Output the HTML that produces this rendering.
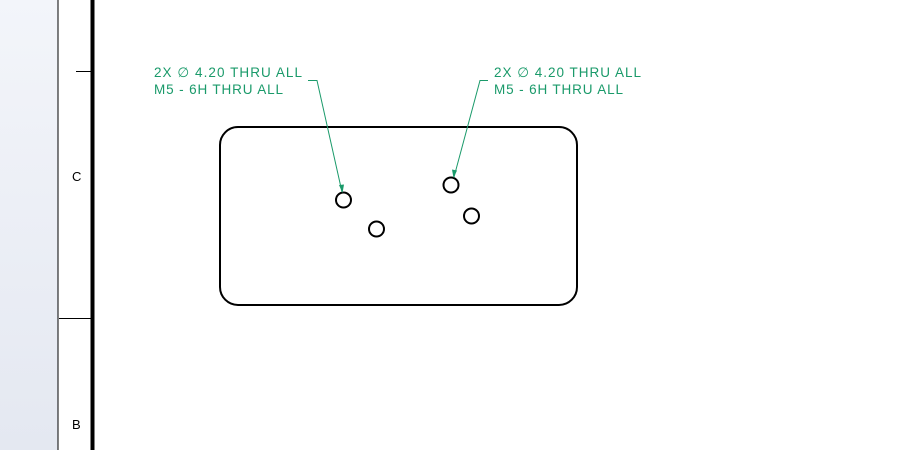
<!DOCTYPE html>
<html><head><style>
body{margin:0;width:908px;height:450px;overflow:hidden;background:#fff}
</style></head><body>
<svg width="908" height="450" xmlns="http://www.w3.org/2000/svg">
<defs><linearGradient id="g" x1="0" y1="0" x2="0" y2="1"><stop offset="0" stop-color="#f3f5fa"/><stop offset="1" stop-color="#e4e8f1"/></linearGradient></defs>
<rect x="0" y="0" width="58" height="450" fill="url(#g)"/>
<line x1="58" y1="0" x2="58" y2="450" stroke="#000" stroke-width="1"/>
<line x1="92.5" y1="0" x2="92.5" y2="450" stroke="#000" stroke-width="4"/>
<line x1="76" y1="71.5" x2="91" y2="71.5" stroke="#000" stroke-width="1"/>
<line x1="59" y1="318.5" x2="91" y2="318.5" stroke="#000" stroke-width="1"/>
<text x="72" y="181" font-family="Liberation Sans, sans-serif" font-size="13">C</text>
<text x="72" y="429" font-family="Liberation Sans, sans-serif" font-size="13">B</text>
<rect x="220" y="127" width="357" height="178" rx="18" fill="none" stroke="#000" stroke-width="2"/>
<g fill="none" stroke="#000" stroke-width="2">
<circle cx="343.5" cy="200" r="7.5"/><circle cx="376.5" cy="229" r="7.5"/>
<circle cx="451" cy="185" r="7.5"/><circle cx="471.5" cy="216" r="7.5"/>
</g>
<g font-family="Liberation Sans, sans-serif" font-size="13.5" fill="#1a9a6a" xml:space="preserve">
<text x="154" y="77" textLength="148" lengthAdjust="spacing">2X  ∅ 4.20 THRU ALL</text><text x="154" y="94" textLength="129" lengthAdjust="spacing">M5 - 6H THRU ALL</text>
<text x="494" y="77" textLength="147" lengthAdjust="spacing">2X  ∅ 4.20 THRU ALL</text><text x="494" y="94" textLength="129" lengthAdjust="spacing">M5 - 6H THRU ALL</text>
</g>
<g stroke="#1a9a6a" stroke-width="1" fill="none">
<polyline points="308,80.5 317,80.5 342,192"/>
<polyline points="488,80.5 480,80.5 454,177"/>
</g>
<g fill="#1a9a6a">
<polygon points="342.5,193 339,185 344,184.5"/>
<polygon points="453.5,178 452,169.5 457,170.5"/>
</g>
</svg>
</body></html>
